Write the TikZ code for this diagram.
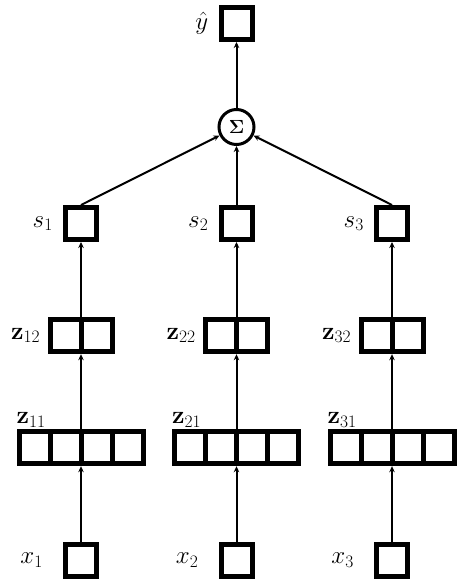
\documentclass[tikz,border=0pt]{standalone}
\usepackage{fix-cm}
\usetikzlibrary{arrows.meta,fit,positioning}
\definecolor{NetInk}{HTML}{000000}
\tikzset{
  net/cell/.style={
    draw=NetInk, line width=5pt, fill=white,
    minimum width=31pt, minimum height=32pt, inner sep=0pt
  },
  net/sum/.style={
    draw=NetInk, line width=3pt, circle, fill=white,
    minimum size=35pt, inner sep=0pt, font=\fontsize{19}{23}\selectfont
  },
  net/arrow/.style={
    -{Stealth[length=6pt,width=5.5pt]}, line width=2pt, draw=NetInk
  },
  net/label/.style={font=\fontsize{25}{30}\selectfont, inner sep=0pt}
}

\begin{document}
\begin{tikzpicture}[x=1pt,y=-1pt,node distance=10pt]
  \useasboundingbox (0,0) rectangle (457,581);
  \node[net/cell] (y) at (236.5,23.5) {};
  \node[net/sum] (sum) at (236.5,127) {$\mathbf{\Sigma}$};
  \node[net/label,left=10pt of y] {$\hat{y}$};
  \draw[net/arrow] (sum) -- (y);
  \foreach \i/\cx in {1/81,2/236.5,3/392}{
    \node[net/cell] (x\i) at (\cx,560) {};
    \foreach \dx [count=\k] in {-46.5,-15.5,15.5,46.5}
      \node[net/cell] (z\i1-\k) at (\cx+\dx,447.5) {};
    \node[fit=(z\i1-1)(z\i1-4),inner sep=0pt] (z\i1) {};
    \foreach \dx [count=\k] in {-15.5,15.5}
      \node[net/cell] (z\i2-\k) at (\cx+\dx,335.5) {};
    \node[fit=(z\i2-1)(z\i2-2),inner sep=0pt] (z\i2) {};
    \node[net/cell] (s\i) at (\cx,223.5) {};
    \node[net/label,left=20pt of x\i] {$x_\i$};
    \node[net/label,anchor=south west,yshift=1pt] at (z\i1.north west) {$\mathbf{z}_{\i1}$};
    \node[net/label,left=7pt of z\i2] {$\mathbf{z}_{\i2}$};
    \node[net/label,left=10pt of s\i] {$s_\i$};
    \draw[net/arrow] (x\i) -- (z\i1);
    \draw[net/arrow] (z\i1) -- (z\i2);
    \draw[net/arrow] (z\i2) -- (s\i);
    \draw[net/arrow] (s\i.north) -- (sum);
  }
\end{tikzpicture}
\end{document}
